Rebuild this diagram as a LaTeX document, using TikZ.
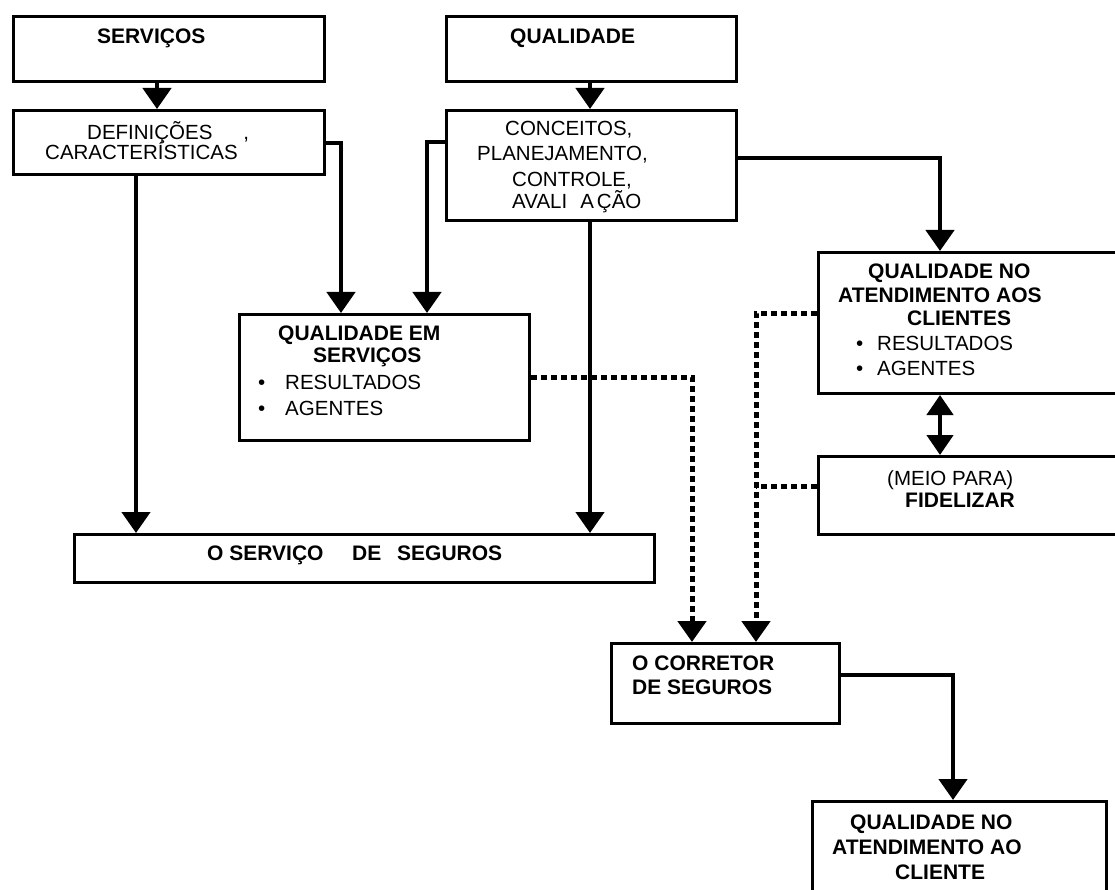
\documentclass[tikz,border=0pt]{standalone}
\usepackage{fontspec}
\setmainfont{Liberation Sans}
\usetikzlibrary{arrows.meta}
\begin{document}
\begin{tikzpicture}[x=1pt,y=-1pt,
  font=\fontsize{20.5}{23}\selectfont,
  box/.style n args={2}{draw, line width=3pt, rectangle, anchor=north west, inner sep=0pt, minimum width=#1, minimum height=#2},
  t/.style={anchor=base west, inner sep=0pt},
  b/.style={t, font=\fontsize{21}{23}\selectfont\bfseries},
  conn/.style={line width=4.5pt, line join=miter, -{Triangle[length=21pt,width=28pt]}},
  dconn/.style={line width=4.5pt, {Triangle[length=20pt,width=26pt]}-{Triangle[length=20pt,width=26pt]}},
  dotline/.style={line width=5pt, line join=miter, dash pattern=on 6pt off 4pt},
  dotarrow/.style={dotline, -{Triangle[length=21pt,width=28pt]}}
]
\useasboundingbox (0,0) rectangle (1115,890);
\clip (0,0) rectangle (1115,890);

% boxes
\node[box={311pt}{65pt}] (serv) at (12,15) {};
\node[box={311pt}{64pt}] (def) at (12,109) {};
\node[box={290pt}{65pt}] (qual) at (445,15) {};
\node[box={290pt}{110pt}] (conc) at (445,109) {};
\node[box={290pt}{126pt}] (qes) at (238,313) {};
\node[box={318pt}{141pt}] (qna) at (817,251) {};
\node[box={318pt}{78pt}] (fid) at (817,455) {};
\node[box={580pt}{48pt}] (oss) at (73,533) {};
\node[box={228pt}{80pt}] (corr) at (610,642) {};
\node[box={294pt}{100pt}] (qnac) at (811,800) {};

% helper coordinates
\coordinate (c136) at (136,0);
\coordinate (c157) at (157,0);
\coordinate (c341) at (341,0);
\coordinate (c427) at (427,0);
\coordinate (c590) at (590,0);
\coordinate (c692) at (692,0);
\coordinate (c756) at (756,0);
\coordinate (c940) at (940,0);
\coordinate (c953) at (953,0);
\coordinate (r142) at (0,142);
\coordinate (r143) at (0,143);
\coordinate (r158) at (0,158);
\coordinate (r313) at (0,313);
\coordinate (r377) at (0,377);
\coordinate (r486) at (0,486);
\coordinate (r675) at (0,675);

% connectors
\draw[conn] (serv.south -| c157) -- (def.north -| c157);
\draw[conn] (qual.south -| c590) -- (conc.north -| c590);
\draw[conn] (def.east |- r143) -| (qes.north -| c341);
\draw[conn] (conc.west |- r142) -| (qes.north -| c427);
\draw[conn] (def.south -| c136) -- (oss.north -| c136);
\draw[conn] (conc.south -| c590) -- (oss.north -| c590);
\draw[conn] (conc.east |- r158) -| (qna.north -| c940);
\draw[dconn] (qna.south -| c940) -- (fid.north -| c940);
\draw[conn] (corr.east |- r675) -| (qnac.north -| c953);
\draw[dotarrow] (qes.east |- r377) -| (corr.north -| c692);
\draw[dotarrow] (qna.west |- r313) -| (corr.north -| c756);
\coordinate (fidjoin) at (r486 -| c756);
\draw[dotline] (fid.west |- r486) -- (fidjoin);

% texts
\node[b] (tserv) at (97,44) {SERVIÇOS};
\node[t] (tdef1) at (87,140) {DEFINIÇÕES\hspace{31pt},};
\node[t] (tdef2) at (45,160) {CARACTERÍSTICAS};
\node[b] (tqual) at (510,44) {QUALIDADE};
\node[t] (tconc1) at (505,136) {CONCEITOS,};
\node[t] (tconc2) at (477,161) {PLANEJAMENTO,};
\node[t] (tconc3) at (512,187) {CONTROLE,};
\node[t] (tconc4) at (512,209) {AVALI\hspace{13pt}A\hspace{3pt}ÇÃO};

\node[b] (tqes1) at (278,340) {QUALIDADE EM};
\node[b] (tqes2) at (313,362) {SERVIÇOS};
\node[t] (tqesb1) at (258,389) {•};
\node[t] (tqes3) at (285,389) {RESULTADOS};
\node[t] (tqesb2) at (258,415) {•};
\node[t] (tqes4) at (285,415) {AGENTES};

\node[b] (tqna1) at (868,279) {QUALIDADE NO};
\node[b] (tqna2) at (838,302) {ATENDIMENTO AOS};
\node[b] (tqna3) at (907,325) {CLIENTES};
\node[t] (tqnab1) at (856,350) {•};
\node[t] (tqna4) at (877,350) {RESULTADOS};
\node[t] (tqnab2) at (856,375) {•};
\node[t] (tqna5) at (877,375) {AGENTES};

\node[t] (tfid1) at (887,485) {(MEIO PARA)};
\node[b] (tfid2) at (905,507) {FIDELIZAR};

\node[b] (toss1) at (207,560) {O SERVIÇO};
\node[b] (toss2) at (352,560) {DE};
\node[b] (toss3) at (397,560) {SEGUROS};

\node[b] (tcorr1) at (632,670) {O CORRETOR};
\node[b] (tcorr2) at (632,694) {DE SEGUROS};

\node[b] (tqnac1) at (850,829) {QUALIDADE NO};
\node[b] (tqnac2) at (832,854) {ATENDIMENTO AO};
\node[b] (tqnac3) at (895,879) {CLIENTE};
\end{tikzpicture}
\end{document}
